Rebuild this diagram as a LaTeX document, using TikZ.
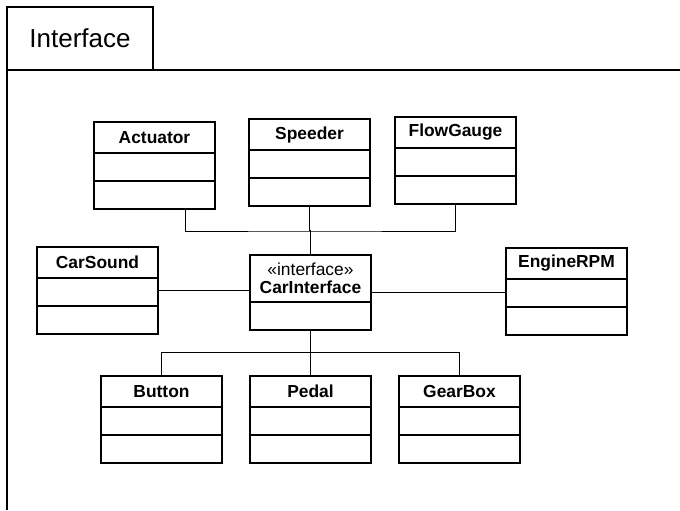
\documentclass[tikz,border=0pt]{standalone}
\usepackage{fontspec}
\setmainfont{Liberation Sans}
\usetikzlibrary{shapes.multipart}
\newcommand{\clshead}[1]{\parbox[c][14.75pt][c]{60.5pt}{\centering\bfseries #1}}
\newcommand{\clsrow}{\rule{0pt}{13.25pt}}

\begin{document}
\begin{tikzpicture}[
    x=0.5pt, y=-0.5pt,
    every node/.style={font=\fontsize{8.7}{9}\selectfont},
    cls/.style={draw, rectangle split, rectangle split parts=3, line width=0.75pt,
                inner sep=0pt, outer sep=0pt, anchor=north west, fill=white},
    iface/.style={cls, rectangle split parts=2},
    tabbox/.style={draw, line width=0.75pt, anchor=north west, inner sep=0pt,
                   outer sep=0pt, minimum width=73pt, minimum height=31.5pt,
                   font=\fontsize{13}{15}\selectfont},
    conn/.style={line width=0.5pt},
    link/.style={line width=0.75pt}
]
    \useasboundingbox (0,0) rectangle (680,510);
    \node[tabbox] (tab) at (7,7) {Interface};
    \draw[line width=0.75pt] (7,510) -- (tab.south west) -- (680,70);

    \node[cls] (act)  at (94,122)  {\clshead{Actuator}\nodepart{two}\clsrow\nodepart{three}\clsrow};
    \node[cls] (spd)  at (249,119) {\clshead{Speeder}\nodepart{two}\clsrow\nodepart{three}\clsrow};
    \node[cls] (flow) at (395,117) {\clshead{FlowGauge}\nodepart{two}\clsrow\nodepart{three}\clsrow};
    \node[cls] (snd)  at (37,247)  {\clshead{CarSound}\nodepart{two}\clsrow\nodepart{three}\clsrow};
    \node[iface] (ci) at (250,255)
        {\parbox[c][22.75pt][c]{60.5pt}{\centering «interface»\\\textbf{CarInterface}}\nodepart{two}\clsrow};
    \node[cls] (rpm)  at (506,248) {\clshead{EngineRPM}\nodepart{two}\clsrow\nodepart{three}\clsrow};
    \node[cls] (btn)  at (101,376) {\clshead{Button}\nodepart{two}\clsrow\nodepart{three}\clsrow};
    \node[cls] (ped)  at (250,376) {\clshead{Pedal}\nodepart{two}\clsrow\nodepart{three}\clsrow};
    \node[cls] (gear) at (399,376) {\clshead{GearBox}\nodepart{two}\clsrow\nodepart{three}\clsrow};

    \path (spd.south) ++(0,25) coordinate (jtop);
    \path (ci.south) ++(0,22) coordinate (jbot);

    \draw[conn] ([xshift=15.5pt]act.south) |- (jtop) -| (flow.south);
    \draw[conn] (spd.south) -- (jtop);
    \draw[link] (jtop) -- (jtop -| ci.north) -- (ci.north);
    \draw[conn] (snd.east) -- (snd.east -| ci.west);
    \draw[conn] (ci.east) -- (ci.east -| rpm.west);
    \draw[link] (ci.south) -- (jbot);
    \draw[conn] (btn.north) |- (jbot) -| (gear.north);
    \draw[conn] (jbot) -- (ped.north);
\end{tikzpicture}
\end{document}
